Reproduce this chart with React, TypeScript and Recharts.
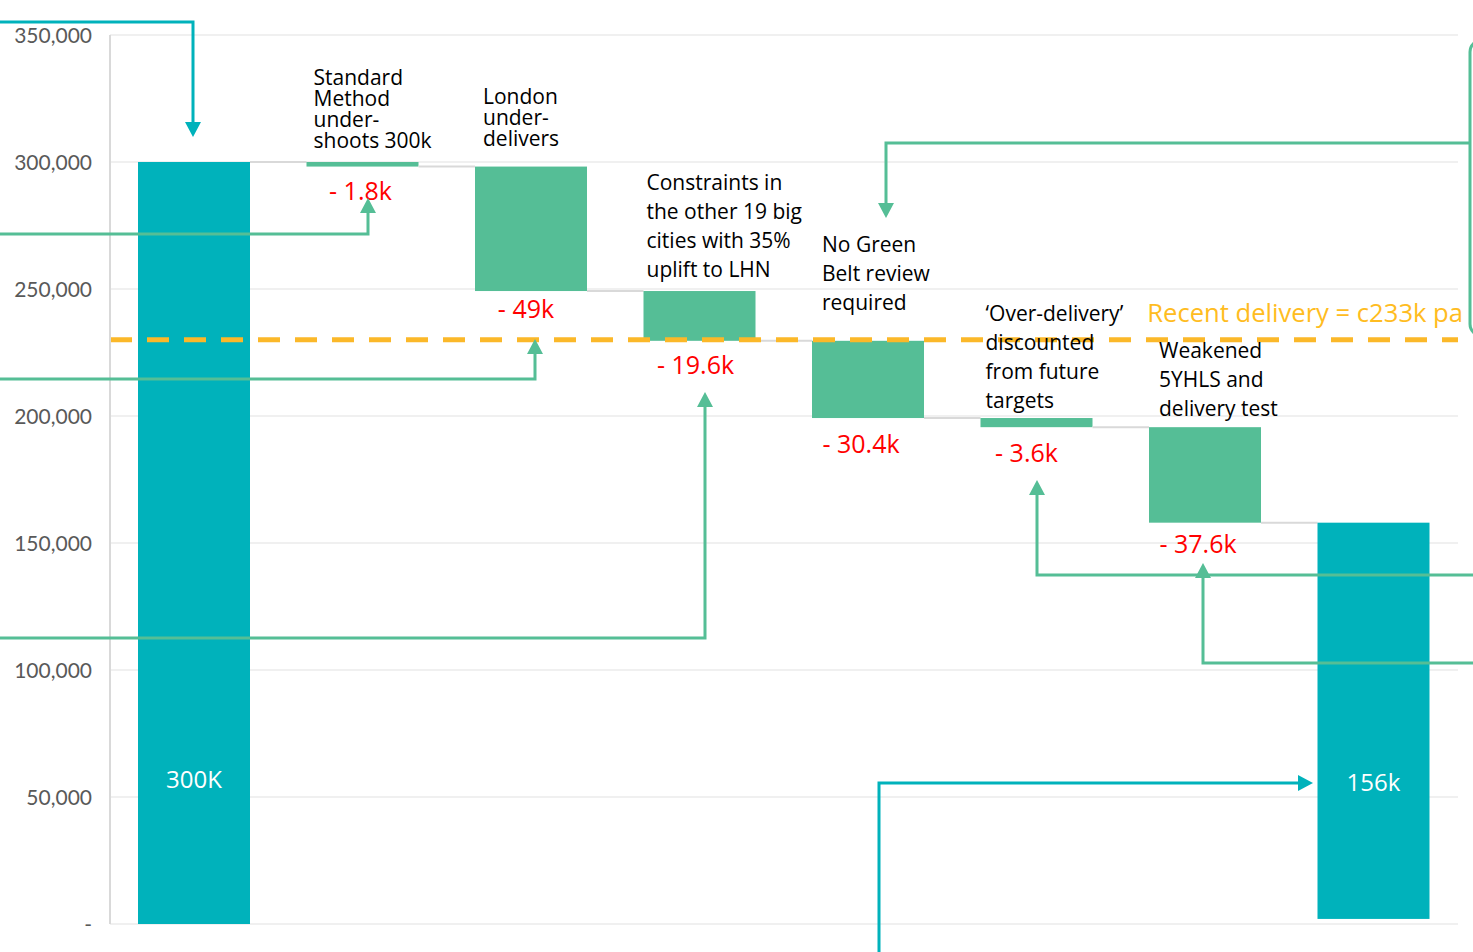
import React from "react";
import { BarChart, Bar, XAxis, YAxis, CartesianGrid, ReferenceLine, LabelList } from "recharts";

const W = 1473;
const H = 952;
const TEAL = "#00B2BB";
const GREEN = "#55BE96";
const ORANGE = "#FBB829";
const FONT = "'Open Sans', 'Noto Sans', sans-serif";

// waterfall steps
const categories = [
  "Start",
  "Standard Method under-shoots 300k",
  "London under-delivers",
  "Constraints in the other 19 big cities",
  "No Green Belt review required",
  "'Over-delivery' discounted",
  "Weakened 5YHLS and delivery test",
  "End",
];
const barLow = [0, 298200, 249200, 229600, 199200, 195600, 158000, 2000];
const barHigh = [300000, 300000, 298200, 249200, 229600, 199200, 195600, 158000];
const isTotal = [true, false, false, false, false, false, false, true];
const changeLabels = ["", "- 1.8k", "- 49k", "- 19.6k", "- 30.4k", "- 3.6k", "- 37.6k", ""];
const totalLabels = ["300K", "", "", "", "", "", "", "156k"];
const notes = [
  [],
  ["Standard", "Method", "under-", "shoots 300k"],
  ["London", "under-", "delivers"],
  ["Constraints in", "the other 19 big", "cities with 35%", "uplift to LHN"],
  ["No Green", "Belt review", "required"],
  ["\u2018Over-delivery\u2019", "discounted", "from future", "targets"],
  ["Weakened", "5YHLS and", "delivery test"],
  [],
];
const recentDelivery = 230000;
const yTicks = [0, 50000, 100000, 150000, 200000, 250000, 300000, 350000];

const data = categories.map((name, i) => ({ name, idx: i, range: [barLow[i], barHigh[i]] }));

const MARGIN = { top: 35, right: 15, bottom: 28, left: 0 };
const AXIS_W = 110;
const BAR_SIZE = 112;
const BAND = (W - MARGIN.left - MARGIN.right - AXIS_W) / categories.length;

// hand placed notes: [dx from bar left, first line above bar top, line height]
const NOTE_POS: (number[] | null)[] = [
  null,
  [7, 85, 21],
  [8, 71, 21],
  [3, 109, 29],
  [10, 97, 29],
  [5, 105, 29],
  [10, 77, 29],
  null,
];
// red change labels: nudge from bar centre, drop below bar bottom
const CHANGE_DX = [0, -2, -5, -4, -7, -10, -7, 0];
const CHANGE_DROP = [0, 23, 17, 23, 25, 25, 20, 0];
// white totals: lift above bar bottom
const TOTAL_LIFT = [146, 0, 0, 0, 0, 0, 0, 137];

// callout arrows coming in from outside the slide
const ARROWS = [
  { color: TEAL, pts: [[0, 22], [193, 22], [193, 137]] },
  { color: GREEN, pts: [[0, 234], [368, 234], [368, 198]] },
  { color: GREEN, pts: [[0, 379], [535, 379], [535, 339]] },
  { color: GREEN, pts: [[0, 638], [705, 638], [705, 392]] },
  { color: GREEN, pts: [[1470, 143], [886, 143], [886, 218]] },
  { color: GREEN, pts: [[1473, 575], [1037, 575], [1037, 480]] },
  { color: GREEN, pts: [[1473, 663], [1203, 663], [1203, 563]] },
  { color: TEAL, pts: [[879, 952], [879, 783], [1313, 783]] },
];

function barBox(props: any) {
  const top = Math.min(props.y, props.y + props.height);
  return { top, bottom: top + Math.abs(props.height) };
}

function StepBar(props: any) {
  const { x, width } = props;
  const i = props.payload?.idx ?? props.index;
  const { top, bottom } = barBox(props);
  const joinY = i === 0 ? top : bottom;
  return (
    <g>
      <rect x={x} y={top} width={width} height={bottom - top} fill={isTotal[i] ? TEAL : GREEN} />
      {i < categories.length - 1 && (
        <line x1={x + width} x2={x + BAND} y1={joinY} y2={joinY} stroke="#D9D9D9" strokeWidth={2} />
      )}
    </g>
  );
}

function NoteLabel(props: any) {
  const i = props.value;
  const pos = NOTE_POS[i];
  if (!pos) return null;
  const { top } = barBox(props);
  const tx = props.x + pos[0];
  return (
    <text fontSize={21} fill="#000" fontFamily={FONT}>
      {notes[i].map((l, k) => (
        <tspan key={k} x={tx} y={top - pos[1] + k * pos[2]} dominantBaseline="central">
          {l}
        </tspan>
      ))}
    </text>
  );
}

function ChangeLabel(props: any) {
  const i = props.value;
  if (!changeLabels[i]) return null;
  const { bottom } = barBox(props);
  return (
    <text
      x={props.x + props.width / 2 + CHANGE_DX[i]}
      y={bottom + CHANGE_DROP[i]}
      textAnchor="middle"
      dominantBaseline="central"
      fontSize={25}
      fill="#FF0000"
      fontFamily={FONT}
    >
      {changeLabels[i]}
    </text>
  );
}

function TotalLabel(props: any) {
  const i = props.value;
  if (!totalLabels[i]) return null;
  const { bottom } = barBox(props);
  return (
    <text
      x={props.x + props.width / 2}
      y={bottom - TOTAL_LIFT[i]}
      textAnchor="middle"
      dominantBaseline="central"
      fontSize={24}
      fill="#fff"
      fontFamily={FONT}
    >
      {totalLabels[i]}
    </text>
  );
}

function RecentLabel(props: any) {
  const vb = props.viewBox || {};
  return (
    <text
      x={vb.x + vb.width + 5}
      y={vb.y - 27}
      textAnchor="end"
      dominantBaseline="central"
      fontSize={25.6}
      fill="#FFBC21"
      fontFamily={FONT}
    >
      Recent delivery = c233k pa
    </text>
  );
}

function Arrow({ color, pts }: { color: string; pts: number[][] }) {
  const [tx, ty] = pts[pts.length - 1];
  const [px, py] = pts[pts.length - 2];
  const len = Math.hypot(tx - px, ty - py);
  const ux = (tx - px) / len;
  const uy = (ty - py) / len;
  const L = 15;
  const hw = 8;
  const bx = tx - ux * L;
  const by = ty - uy * L;
  const line = [...pts.slice(0, -1), [bx, by]].map((p) => p.join(",")).join(" ");
  const head = `${tx},${ty} ${bx - uy * hw},${by + ux * hw} ${bx + uy * hw},${by - ux * hw}`;
  return (
    <g>
      <polyline points={line} fill="none" stroke={color} strokeWidth={3} />
      <polygon points={head} fill={color} />
    </g>
  );
}

export default function App() {
  return (
    <div
      style={{
        position: "absolute",
        left: 0,
        top: 0,
        width: W,
        height: H,
        overflow: "hidden",
        background: "#fff",
        fontFamily: FONT,
      }}
    >
      <BarChart width={W} height={H} data={data} margin={MARGIN}>
        <CartesianGrid vertical={false} stroke="#EBEBEB" strokeWidth={1.5} />
        <XAxis dataKey="name" hide />
        <YAxis
          width={AXIS_W}
          domain={[0, 350000]}
          ticks={yTicks}
          interval={0}
          tickLine={false}
          tickSize={0}
          tickMargin={18}
          axisLine={{ stroke: "#D9D9D9", strokeWidth: 2 }}
          tick={{ fill: "#595959", fontSize: 21, fontFamily: "Lato", dy: 1 }}
          tickFormatter={(v: number) => (v === 0 ? "-" : v.toLocaleString("en-US"))}
        />
        <Bar dataKey="range" barSize={BAR_SIZE} shape={<StepBar />} isAnimationActive={false}>
          <LabelList dataKey="idx" content={<NoteLabel />} />
          <LabelList dataKey="idx" content={<ChangeLabel />} />
          <LabelList dataKey="idx" content={<TotalLabel />} />
        </Bar>
        <ReferenceLine
          y={recentDelivery}
          stroke={ORANGE}
          strokeWidth={5}
          strokeDasharray="22 15"
          label={<RecentLabel />}
        />
      </BarChart>
      <svg
        width={W}
        height={H}
        style={{ position: "absolute", left: 0, top: 0, pointerEvents: "none" }}
      >
        {ARROWS.map((a, k) => (
          <Arrow key={k} color={a.color} pts={a.pts} />
        ))}
        <rect x={1470} y={40} width={60} height={296} rx={12} fill="none" stroke={GREEN} strokeWidth={3} />
      </svg>
    </div>
  );
}
